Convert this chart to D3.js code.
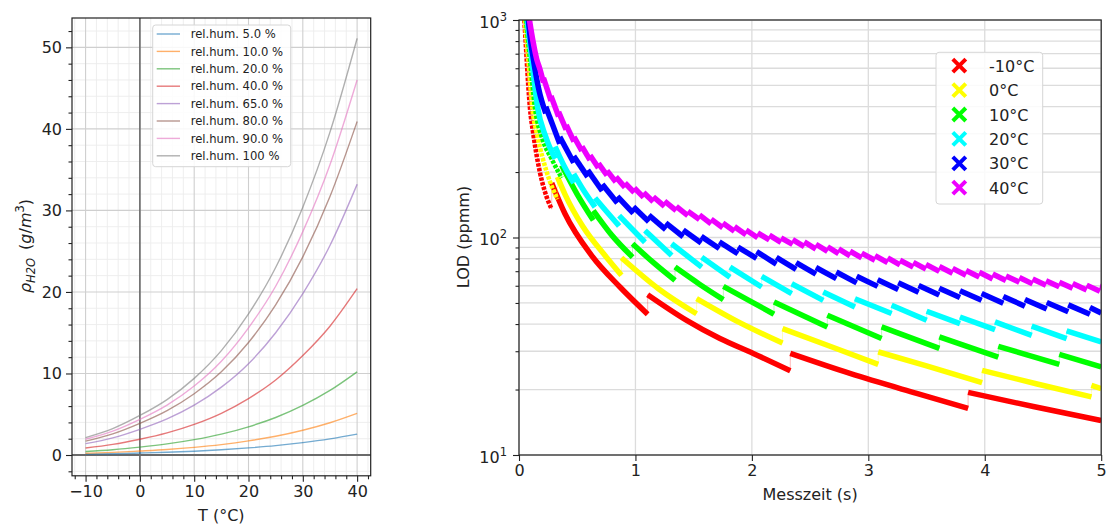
<!DOCTYPE html>
<html>
<head>
<meta charset="utf-8">
<script src="https://cdn.jsdelivr.net/npm/d3@7"></script>
<style>
  body { margin: 0; background: #fff; }
  svg { display: block; }
  text { font-family: "DejaVu Sans", sans-serif; fill: #222; }
</style>
</head>
<body>
<svg id="fig" width="1107" height="524"></svg>
<script>
// ---------- left panel: water vapour density vs temperature ----------
const temps = [-10, -5, 0, 5, 10, 15, 20, 25, 30, 35, 40];
const rh5   = [0.11, 0.16, 0.24, 0.34, 0.47, 0.64, 0.87, 1.15, 1.52, 1.98, 2.56];
const rh10  = [0.21, 0.32, 0.49, 0.68, 0.94, 1.28, 1.73, 2.30, 3.04, 3.96, 5.11];
const rh20  = [0.43, 0.65, 0.97, 1.36, 1.88, 2.56, 3.46, 4.60, 6.08, 7.92, 10.2];
const rh40  = [0.86, 1.30, 1.94, 2.72, 3.76, 5.12, 6.92, 9.20, 12.2, 15.8, 20.4];
const rh65  = [1.39, 2.10, 3.15, 4.42, 6.11, 8.32, 11.2, 15.0, 19.8, 25.7, 33.2];
const rh80  = [1.71, 2.59, 3.88, 5.44, 7.52, 10.2, 13.8, 18.4, 24.3, 31.7, 40.9];
const rh90  = [1.93, 2.92, 4.37, 6.12, 8.46, 11.5, 15.6, 20.7, 27.4, 35.6, 46.0];
const rh100 = [2.14, 3.24, 4.85, 6.80, 9.40, 12.8, 17.3, 23.0, 30.4, 39.6, 51.1];
const humLabels = ["rel.hum. 5.0 %", "rel.hum. 10.0 %", "rel.hum. 20.0 %", "rel.hum. 40.0 %",
                   "rel.hum. 65.0 %", "rel.hum. 80.0 %", "rel.hum. 90.0 %", "rel.hum. 100 %"];
const humSeries = [rh5, rh10, rh20, rh40, rh65, rh80, rh90, rh100];
const humColors = ["#1f77b4", "#ff7f0e", "#2ca02c", "#d62728", "#9467bd", "#8c564b", "#e377c2", "#7f7f7f"];
const tTicks = [-10, 0, 10, 20, 30, 40];
const rhoTicks = [0, 10, 20, 30, 40, 50];

// ---------- right panel: LOD vs measuring time ----------
// each series is a list of segments, each segment a list of [time (s), LOD (ppmm)]
const lodM10 = [
  [[0.045, 1000], [0.052, 891], [0.066, 661], [0.080, 498], [0.094, 396], [0.123, 299], [0.18, 199], [0.223, 162], [0.281, 135]],
  [[0.281, 178], [0.395, 128.5], [0.624, 82.6], [0.867, 59.2], [1.105, 44.4]],
  [[1.105, 54.6], [1.44, 41.6], [1.726, 34.3], [2.012, 29.3], [2.33, 24.4]],
  [[2.33, 29.3], [2.842, 23.7], [3.415, 19.2], [3.857, 16.4]],
  [[3.857, 19.4], [4.417, 16.7], [5.0, 14.4]]
];
const lod0 = [
  [[0.05, 1000], [0.08, 661], [0.114, 396], [0.16, 290], [0.238, 200], [0.33, 150]],
  [[0.33, 190], [0.395, 158], [0.55, 112], [0.739, 82.6], [0.88, 67]],
  [[0.88, 80.7], [1.2, 58], [1.525, 44.6]],
  [[1.525, 52.4], [1.9, 40.5], [2.263, 32.7]],
  [[2.263, 38.1], [2.7, 31.2], [3.085, 26.1]],
  [[3.085, 29.8], [3.5, 25.7], [3.977, 21.5]],
  [[3.977, 24.5], [4.45, 21.2], [4.916, 18.5]],
  [[4.916, 20.9], [5.0, 20.2]]
];
const lod10 = [
  [[0.06, 1000], [0.094, 661], [0.137, 396], [0.2, 285], [0.28, 230], [0.366, 188]],
  [[0.366, 215], [0.5, 158], [0.638, 120]],
  [[0.638, 133], [0.8, 102], [0.975, 81.2]],
  [[0.975, 93.5], [1.15, 77], [1.34, 63.5]],
  [[1.34, 73.1], [1.55, 61], [1.755, 51.8]],
  [[1.755, 59.6], [1.97, 51.5], [2.19, 44.4]],
  [[2.19, 50.5], [2.648, 38.8]],
  [[2.648, 43.9], [3.114, 34.3]],
  [[3.114, 38.8], [3.61, 30.9]],
  [[3.61, 34.9], [4.116, 28.2]],
  [[4.116, 31.6], [4.64, 26.1]],
  [[4.64, 29.0], [5.0, 25.4]]
];
const lod20 = [
  [[0.07, 1000], [0.109, 661], [0.16, 396], [0.23, 290], [0.31, 230]],
  [[0.31, 262], [0.39, 212], [0.47, 178]],
  [[0.47, 196], [0.56, 163], [0.653, 138]],
  [[0.653, 152], [0.75, 132], [0.86, 113]],
  [[0.86, 126], [1.082, 95.1]],
  [[1.082, 107.7], [1.311, 82.7]],
  [[1.311, 93.6], [1.569, 73.1]],
  [[1.569, 81.2], [1.812, 65.7]],
  [[1.812, 73.1], [2.084, 59.2]],
  [[2.084, 66.2], [2.342, 55.2]],
  [[2.342, 61.3], [2.613, 51.4]],
  [[2.613, 56.1], [2.885, 47.9]],
  [[2.885, 52.3], [3.2, 44.7]],
  [[3.2, 48.8], [3.501, 41.6]],
  [[3.501, 45.8], [3.787, 40.2]],
  [[3.787, 43.1], [4.088, 37.7]],
  [[4.088, 40.9], [4.403, 35.5]],
  [[4.403, 39.1], [4.703, 34.3]],
  [[4.703, 37.2], [5.0, 33.1]]
];
const lod30 = [
  [[0.08, 1000], [0.1, 800], [0.123, 661], [0.17, 480], [0.23, 372]],
  [[0.23, 399], [0.35, 270]], [[0.35, 290], [0.47, 220.5]], [[0.47, 236.7], [0.59, 190]],
  [[0.59, 204], [0.715, 163.6]], [[0.715, 175.6], [0.845, 144.1]], [[0.845, 154.7], [0.982, 129.1]],
  [[0.982, 138.6], [1.115, 118.1]], [[1.115, 126.8], [1.26, 108.7]], [[1.26, 116.7], [1.41, 100.8]],
  [[1.41, 108.3], [1.565, 94.3]], [[1.565, 101.2], [1.72, 89.0]], [[1.72, 95.5], [1.88, 84.2]],
  [[1.88, 90.4], [2.04, 80.2]], [[2.04, 86.1], [2.21, 75.5]], [[2.21, 81.0], [2.38, 71.3]],
  [[2.38, 76.6], [2.55, 67.8]], [[2.55, 72.8], [2.725, 64.7]], [[2.725, 69.4], [2.9, 61.9]],
  [[2.9, 66.4], [3.08, 59.6]], [[3.08, 64.0], [3.257, 57.7]], [[3.257, 62.0], [3.432, 56.0]],
  [[3.432, 60.1], [3.609, 54.4]], [[3.609, 58.4], [3.787, 53.0]], [[3.787, 56.9], [3.973, 51.5]],
  [[3.973, 55.3], [4.159, 49.9]], [[4.159, 53.6], [4.345, 48.3]], [[4.345, 51.9], [4.532, 46.9]],
  [[4.532, 50.3], [4.717, 45.6]], [[4.717, 49.0], [4.903, 44.4]], [[4.903, 47.7], [5.0, 45.0]]
];
const lod40 = [
  [[0.09, 1000], [0.12, 800], [0.152, 661], [0.18, 594], [0.21, 516]],
  [[0.21, 542], [0.275, 425]], [[0.275, 447], [0.34, 360]], [[0.34, 378], [0.405, 313]],
  [[0.405, 329], [0.472, 276]], [[0.472, 290], [0.54, 250]], [[0.54, 262], [0.61, 227]],
  [[0.61, 239], [0.682, 209]], [[0.682, 219], [0.756, 193]], [[0.756, 203], [0.832, 180]],
  [[0.832, 190], [0.91, 170]], [[0.91, 178], [0.99, 161]], [[0.99, 169], [1.07, 153]],
  [[1.07, 161], [1.153, 146]], [[1.153, 154], [1.25, 139]], [[1.25, 147], [1.35, 133]],
  [[1.35, 139], [1.45, 126]], [[1.45, 132], [1.55, 121]], [[1.55, 127], [1.65, 115.5]],
  [[1.65, 121.5], [1.75, 110.9]], [[1.75, 116.5], [1.85, 106.8]], [[1.85, 112.2], [1.95, 103]],
  [[1.95, 108.2], [2.05, 99.8]], [[2.05, 105], [2.15, 97.5]], [[2.15, 102.5], [2.25, 94.9]],
  [[2.25, 99.7], [2.35, 92.9]], [[2.35, 97.7], [2.45, 90.8]], [[2.45, 95.4], [2.55, 88.5]],
  [[2.55, 93.1], [2.65, 86.3]], [[2.65, 90.7], [2.745, 84.3]], [[2.745, 88.7], [2.843, 82.3]],
  [[2.843, 86.5], [2.943, 80.5]], [[2.943, 84.7], [3.057, 78.6]], [[3.057, 82.6], [3.166, 76.6]],
  [[3.166, 80.6], [3.272, 74.8]], [[3.272, 78.6], [3.386, 73.1]], [[3.386, 76.9], [3.495, 71.6]],
  [[3.495, 75.2], [3.61, 69.9]], [[3.61, 73.5], [3.724, 68.5]], [[3.724, 72.1], [3.839, 67.1]],
  [[3.839, 70.5], [3.953, 65.8]], [[3.953, 69.2], [4.068, 64.5]], [[4.068, 67.9], [4.182, 63.4]],
  [[4.182, 66.6], [4.297, 62.3]], [[4.297, 65.5], [4.411, 61.2]], [[4.411, 64.4], [4.526, 60.3]],
  [[4.526, 63.3], [4.64, 59.3]], [[4.64, 62.3], [4.755, 58.4]], [[4.755, 61.4], [4.875, 57.4]],
  [[4.875, 60.4], [4.989, 56.6]], [[4.989, 59.6], [5.0, 59.4]]
];
const lodSeries = [lodM10, lod0, lod10, lod20, lod30, lod40];
const lodLabels = ["-10°C", "0°C", "10°C", "20°C", "30°C", "40°C"];
const lodColors = ["#ff0000", "#ffff00", "#00ff00", "#00ffff", "#0000ff", "#ee00ff"];
const timeTicks = [0, 1, 2, 3, 4, 5];
const lodTicks = [10, 100, 1000];

const svg = d3.select("#fig");
const ink = "#222";
const defs = svg.append("defs");

// ================= left panel =================
const L = { x0: 72, x1: 370.7, y0: 18, y1: 475.8 };
const xL = d3.scaleLinear([-12.5, 42.5], [L.x0, L.x1]);
const yL = d3.scaleLinear([-2.55, 53.6], [L.y1, L.y0]);
const gL = svg.append("g");
defs.append("clipPath").attr("id", "clipL").append("rect")
  .attr("x", L.x0).attr("y", L.y0).attr("width", L.x1 - L.x0).attr("height", L.y1 - L.y0);

// minor and major grid
const minorT = d3.range(-12, 43, 2).filter(v => v % 10 !== 0);
const minorRho = d3.range(-2, 54, 2).filter(v => v % 10 !== 0);
gL.append("g").selectAll("line").data(minorT).join("line")
  .attr("x1", d => xL(d)).attr("x2", d => xL(d)).attr("y1", L.y0).attr("y2", L.y1)
  .attr("stroke", "#ececec").attr("stroke-width", 0.9);
gL.append("g").selectAll("line").data(minorRho).join("line")
  .attr("y1", d => yL(d)).attr("y2", d => yL(d)).attr("x1", L.x0).attr("x2", L.x1)
  .attr("stroke", "#ececec").attr("stroke-width", 0.9);
gL.append("g").selectAll("line").data(tTicks).join("line")
  .attr("x1", d => xL(d)).attr("x2", d => xL(d)).attr("y1", L.y0).attr("y2", L.y1)
  .attr("stroke", "#cfcfcf").attr("stroke-width", 1.1);
gL.append("g").selectAll("line").data(rhoTicks).join("line")
  .attr("y1", d => yL(d)).attr("y2", d => yL(d)).attr("x1", L.x0).attr("x2", L.x1)
  .attr("stroke", "#cfcfcf").attr("stroke-width", 1.1);

// reference lines at T = 0 and rho = 0
gL.append("line").attr("x1", xL(0)).attr("x2", xL(0)).attr("y1", L.y0).attr("y2", L.y1)
  .attr("stroke", "#6a6a6a").attr("stroke-width", 1.6);
gL.append("line").attr("y1", yL(0)).attr("y2", yL(0)).attr("x1", L.x0).attr("x2", L.x1)
  .attr("stroke", "#6a6a6a").attr("stroke-width", 1.8);

// humidity curves
const humLine = d3.line().x((d, i) => xL(temps[i])).y(d => yL(d)).curve(d3.curveMonotoneX);
gL.append("g").attr("clip-path", "url(#clipL)").selectAll("path").data(humSeries).join("path")
  .attr("d", d => humLine(d)).attr("fill", "none")
  .attr("stroke", (d, i) => humColors[i]).attr("stroke-width", 1.4).attr("stroke-opacity", 0.62);

// axes
const axLB = d3.axisBottom(xL).tickValues(tTicks).tickSize(6).tickPadding(4)
  .tickFormat(d => d < 0 ? "\u2212" + Math.abs(d) : d);
const axLL = d3.axisLeft(yL).tickValues(rhoTicks).tickSize(6).tickPadding(4);
gL.append("g").attr("transform", `translate(0,${L.y1})`).call(axLB)
  .call(g => g.select(".domain").remove());
gL.append("g").attr("transform", `translate(${L.x0},0)`).call(axLL)
  .call(g => g.select(".domain").remove());
gL.append("g").attr("transform", `translate(0,${L.y1})`)
  .call(d3.axisBottom(xL).tickValues(minorT).tickSize(3.5).tickFormat(""))
  .call(g => g.select(".domain").remove());
gL.append("g").attr("transform", `translate(${L.x0},0)`)
  .call(d3.axisLeft(yL).tickValues(minorRho).tickSize(3.5).tickFormat(""))
  .call(g => g.select(".domain").remove());
gL.selectAll(".tick line").attr("stroke", ink).attr("stroke-width", 1.1);
gL.selectAll(".tick text").attr("font-size", 16).attr("font-family", "DejaVu Sans").attr("fill", ink);

gL.append("rect").attr("x", L.x0).attr("y", L.y0).attr("width", L.x1 - L.x0).attr("height", L.y1 - L.y0)
  .attr("fill", "none").attr("stroke", ink).attr("stroke-width", 1.2);

// legend
const legL = gL.append("g");
legL.append("rect").attr("x", 152.7).attr("y", 25).attr("width", 138).attr("height", 141.7)
  .attr("rx", 3).attr("fill", "#fff").attr("fill-opacity", 0.85).attr("stroke", "#d6d6d6");
humLabels.forEach((lab, i) => {
  const yy = 34 + i * 17.4;
  legL.append("line").attr("x1", 156.7).attr("x2", 180).attr("y1", yy).attr("y2", yy)
    .attr("stroke", humColors[i]).attr("stroke-width", 1.4).attr("stroke-opacity", 0.62);
  legL.append("text").attr("x", 190.7).attr("y", yy + 4.2).attr("font-size", 11.6).text(lab);
});

// labels
gL.append("text").attr("x", (L.x0 + L.x1) / 2).attr("y", 521).attr("text-anchor", "middle")
  .attr("font-size", 16).text("T (°C)");
const yLab = gL.append("text").attr("transform", "translate(31,246) rotate(-90)")
  .attr("text-anchor", "middle").attr("font-size", 16);
yLab.append("tspan").attr("font-style", "italic").text("ρ");
yLab.append("tspan").attr("font-style", "italic").attr("font-size", 11.5).attr("dy", 4).text("H2O");
yLab.append("tspan").attr("dy", -4).text("\u2002(");
yLab.append("tspan").attr("font-style", "italic").text("g");
yLab.append("tspan").text("/");
yLab.append("tspan").attr("font-style", "italic").text("m");
yLab.append("tspan").attr("font-size", 11.5).attr("dy", -7).text("3");
yLab.append("tspan").attr("dy", 7).text(")");

// ================= right panel =================
const R = { x0: 519, x1: 1101.2, y0: 20, y1: 455 };
const xR = d3.scaleLinear([0, 5], [R.x0, R.x1]);
const yR = d3.scaleLog([10, 1000], [R.y1, R.y0]);
const gR = svg.append("g");
defs.append("clipPath").attr("id", "clipR").append("rect")
  .attr("x", R.x0).attr("y", R.y0).attr("width", R.x1 - R.x0).attr("height", R.y1 - R.y0);

const minorLod = [20, 30, 40, 50, 60, 70, 80, 90, 200, 300, 400, 500, 600, 700, 800, 900];
gR.append("g").selectAll("line").data(minorLod.concat(lodTicks)).join("line")
  .attr("y1", d => yR(d)).attr("y2", d => yR(d)).attr("x1", R.x0).attr("x2", R.x1)
  .attr("stroke", "#dcdcdc").attr("stroke-width", 1.3);
gR.append("g").selectAll("line").data(timeTicks).join("line")
  .attr("x1", d => xR(d)).attr("x2", d => xR(d)).attr("y1", R.y0).attr("y2", R.y1)
  .attr("stroke", "#dcdcdc").attr("stroke-width", 1.3);

const segLine = d3.line().x(d => xR(d[0])).y(d => yR(d[1])).curve(d3.curveMonotoneX);
const linkLine = d3.line().x(d => xR(d[0])).y(d => yR(d[1]));
const curves = gR.append("g").attr("clip-path", "url(#clipR)");
lodSeries.forEach((segs, i) => {
  const g = curves.append("g");
  g.append("path").attr("d", linkLine(segs.flat())).attr("fill", "none")
    .attr("stroke", lodColors[i]).attr("stroke-width", 0.8).attr("stroke-opacity", 0.35);
  g.selectAll("path.seg").data(segs).join("path").attr("class", "seg")
    .attr("d", d => segLine(d)).attr("fill", "none")
    .attr("stroke", lodColors[i]).attr("stroke-width", 5.5).attr("stroke-linejoin", "round")
    // the first, steep run of the three coldest series shows as separate markers
    .attr("stroke-dasharray", (d, j) => (j === 0 && i < 3) ? "3.4 1.4" : null)
    .attr("stroke-width", (d, j) => (j === 0 && i < 3) ? 4.6 : 5.5);
});

const axRB = d3.axisBottom(xR).tickValues(timeTicks).tickSize(6).tickPadding(4).tickFormat(d3.format("d"));
const axRL = d3.axisLeft(yR).tickValues(lodTicks).tickSize(6).tickPadding(5).tickFormat(() => "");
gR.append("g").attr("transform", `translate(0,${R.y1})`).call(axRB).call(g => g.select(".domain").remove());
const yAx = gR.append("g").attr("transform", `translate(${R.x0},0)`).call(axRL).call(g => g.select(".domain").remove());
gR.append("g").attr("transform", `translate(${R.x0},0)`)
  .call(d3.axisLeft(yR).tickValues(minorLod).tickSize(3.5).tickFormat(""))
  .call(g => g.select(".domain").remove());
gR.selectAll(".tick line").attr("stroke", ink).attr("stroke-width", 1.1);
gR.selectAll(".tick text").attr("font-size", 16).attr("font-family", "DejaVu Sans").attr("fill", ink);
// power-of-ten labels
yAx.selectAll(".tick").each(function (d) {
  const t = d3.select(this).select("text").attr("x", -12).attr("dy", "0.45em");
  t.append("tspan").text("10");
  t.append("tspan").attr("font-size", 11.5).attr("dy", -7).text(Math.round(Math.log10(d)));
});

gR.append("rect").attr("x", R.x0).attr("y", R.y0).attr("width", R.x1 - R.x0).attr("height", R.y1 - R.y0)
  .attr("fill", "none").attr("stroke", ink).attr("stroke-width", 1.2);

// legend
const legR = gR.append("g");
legR.append("rect").attr("x", 936).attr("y", 52.3).attr("width", 106.7).attr("height", 151.7)
  .attr("rx", 3).attr("fill", "#fff").attr("fill-opacity", 0.85).attr("stroke", "#d6d6d6");
lodLabels.forEach((lab, i) => {
  const yy = 65.7 + i * 24.4, xx = 959.3, s = 6.5;
  legR.append("path").attr("d", `M${xx - s},${yy - s}L${xx + s},${yy + s}M${xx - s},${yy + s}L${xx + s},${yy - s}`)
    .attr("stroke", lodColors[i]).attr("stroke-width", 4);
  legR.append("text").attr("x", 989).attr("y", yy + 6).attr("font-size", 16).text(lab);
});

gR.append("text").attr("x", (R.x0 + R.x1) / 2).attr("y", 500).attr("text-anchor", "middle")
  .attr("font-size", 16).text("Messzeit (s)");
gR.append("text").attr("transform", "translate(469,237) rotate(-90)").attr("text-anchor", "middle")
  .attr("font-size", 16).text("LOD (ppmm)");
</script>
</body>
</html>
